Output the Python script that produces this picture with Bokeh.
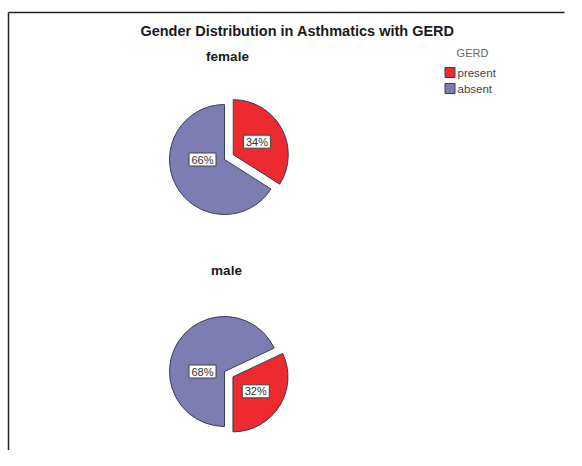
import math
from bokeh.plotting import figure
from bokeh.models import Range1d, ColumnDataSource
from bokeh.core.properties import value
from bokeh.embed import file_html
from bokeh.resources import INLINE

# ---------------- data ----------------
title = "Gender Distribution in Asthmatics with GERD"
genders = ["female", "male"]
gerd_levels = ["present", "absent"]
present_pct = [34, 32]
absent_pct = [66, 68]
legend_title = "GERD"

# ---------------- style / layout ----------------
colors = {"present": "#EC2A2F", "absent": "#7D7DB3"}
outline = "#3A3A5A"
FONT = "Liberation Sans"
W, H = 566, 450
# picture -> figure coordinates (figure y points up)
def fx(px):
    return px
def fy(py):
    return H - py

pie_centers_page = [(224, 159), (224, 371)]    # centre of each pie
panel_title_page = [(227, 56), (226, 270)]
panel_start_clock = [0, 180]                   # clockwise degrees from 12 o'clock
panel_order = [["present", "absent"], ["absent", "present"]]
R = 55
EXPLODE = 10
# label placement: present labels sit on the slice's bisector,
# absent labels sit to the left of the pie centre (as in the original)
label_rule = {"present": (None, 27), "absent": (270, 22)}

p = figure(width=W, height=H, output_backend="svg", toolbar_location=None,
           x_range=Range1d(0, W), y_range=Range1d(0, H), min_border=0)
p.axis.visible = False
p.grid.visible = False
p.outline_line_color = None
p.background_fill_color = "white"
p.border_fill_color = "white"

# frame of the original chart (left and top edges visible)
p.segment(x0=[fx(8), fx(8)], y0=[-5, fy(12)], x1=[fx(8), W - 2],
          y1=[fy(12), fy(12)], line_color="#222222", line_width=1.5)

# title
p.text(x=[fx(297)], y=[fy(30)], text=[title], text_font=value(FONT),
       text_font_size="14.5px", text_font_style="bold", text_color="#1a1a1a",
       text_align="center", text_baseline="middle")

wx, wy, ws, we, wc, lx, ly, lt = [], [], [], [], [], [], [], []
for gi, g in enumerate(genders):
    vals = {"present": present_pct[gi], "absent": absent_pct[gi]}
    total = sum(vals.values())
    cxp, cyp = pie_centers_page[gi]
    theta = panel_start_clock[gi]
    for lvl in panel_order[gi]:
        span = 360.0 * vals[lvl] / total
        a0, a1 = theta, theta + span
        mid = math.radians((a0 + a1) / 2)
        dx, dy = math.sin(mid), math.cos(mid)   # dy is upward
        off = EXPLODE if lvl == "present" else 0
        cx = fx(cxp) + off * dx
        cy = fy(cyp) + off * dy
        wx.append(cx); wy.append(cy)
        ws.append(90 - a1); we.append(90 - a0)
        wc.append(colors[lvl])
        ang, d = label_rule[lvl]
        if ang is None:
            ldx, ldy = dx, dy
        else:
            ldx, ldy = math.sin(math.radians(ang)), math.cos(math.radians(ang))
        lx.append(cx + d * ldx)
        ly.append(cy + d * ldy)
        lt.append(f"{vals[lvl]}%")
        theta = a1
    tx, ty = panel_title_page[gi]
    p.text(x=[fx(tx)], y=[fy(ty)], text=[g], text_font=value(FONT),
           text_font_size="13.5px", text_font_style="bold", text_color="#1a1a1a",
           text_align="center", text_baseline="middle")

src = ColumnDataSource(dict(x=wx, y=wy, s=ws, e=we, c=wc))
p.wedge(x="x", y="y", radius=R, radius_units="screen", start_angle="s",
        end_angle="e", start_angle_units="deg", end_angle_units="deg",
        fill_color="c", line_color=outline, line_width=1, source=src)

lsrc = ColumnDataSource(dict(x=lx, y=ly, t=lt))
p.rect(x="x", y="y", width=27, height=13, width_units="screen",
       height_units="screen", fill_color="white", line_color="#444444",
       line_width=1, source=lsrc)
p.text(x="x", y="y", text="t", text_font=value(FONT), text_font_size="11px",
       text_color="#333333", text_align="center", text_baseline="middle",
       source=lsrc)

# legend
p.text(x=[fx(472)], y=[fy(52.5)], text=[legend_title], text_font=value(FONT),
       text_font_size="11px", text_color="#666666", text_align="center",
       text_baseline="middle")
leg_y = [fy(72 + 16 * i) for i in range(len(gerd_levels))]
p.rect(x=[fx(449.5)] * len(gerd_levels), y=leg_y, width=10, height=10,
       width_units="screen", height_units="screen",
       fill_color=[colors[l] for l in gerd_levels], line_color=outline, line_width=1)
p.text(x=[fx(457)] * len(gerd_levels), y=leg_y, text=gerd_levels,
       text_font=value(FONT), text_font_size="11.5px", text_color="#444444",
       text_align="left", text_baseline="middle")

open("out.html", "w").write(file_html(p, INLINE))
